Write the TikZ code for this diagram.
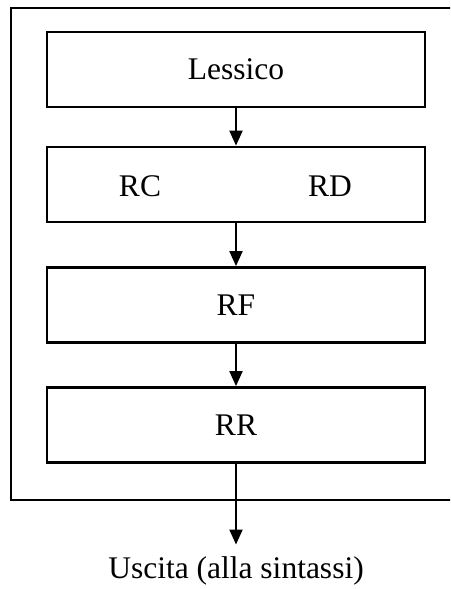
\documentclass[tikz,border=0pt]{standalone}
\usepackage{fontspec}
\setmainfont{Liberation Serif}
\usetikzlibrary{arrows.meta,positioning}

\begin{document}
\begin{tikzpicture}[x=1pt,y=-1pt,
    block/.style={draw,line width=2.8pt,minimum width=378pt,minimum height=75pt,inner sep=0pt},
    arr/.style={line width=2pt,-{Triangle[length=15pt,width=13pt]}},
    lbl/.style={font=\fontsize{31.5}{36}\selectfont}]
    \useasboundingbox (0,0) rectangle (450,589);
    \clip (0,0) rectangle (450,589);

    % Outer frame (runs off the right edge)
    \draw[line width=2.8pt] (11,8) rectangle (470,500);

    % Stages
    \node[block,lbl] (lex) at (236,69.5) {Lessico};
    \node[block] (rcd) at (236,184.5) {};
    \node[lbl] (rc) at (140,186) {RC};
    \node[lbl] (rd) at (330,186) {RD};
    \node[block,lbl] (rf) at (236,305) {RF};
    \node[block,lbl] (rr) at (236,425) {RR};

    % Output
    \node[lbl,inner xsep=1pt,inner ysep=12pt] (out) at (236,571) {Uscita (alla sintassi)};

    % Flow
    \draw[arr] (lex) -- (rcd);
    \draw[arr] (rcd) -- (rf);
    \draw[arr] (rf) -- (rr);
    \draw[arr] (rr) -- (out);
\end{tikzpicture}
\end{document}
